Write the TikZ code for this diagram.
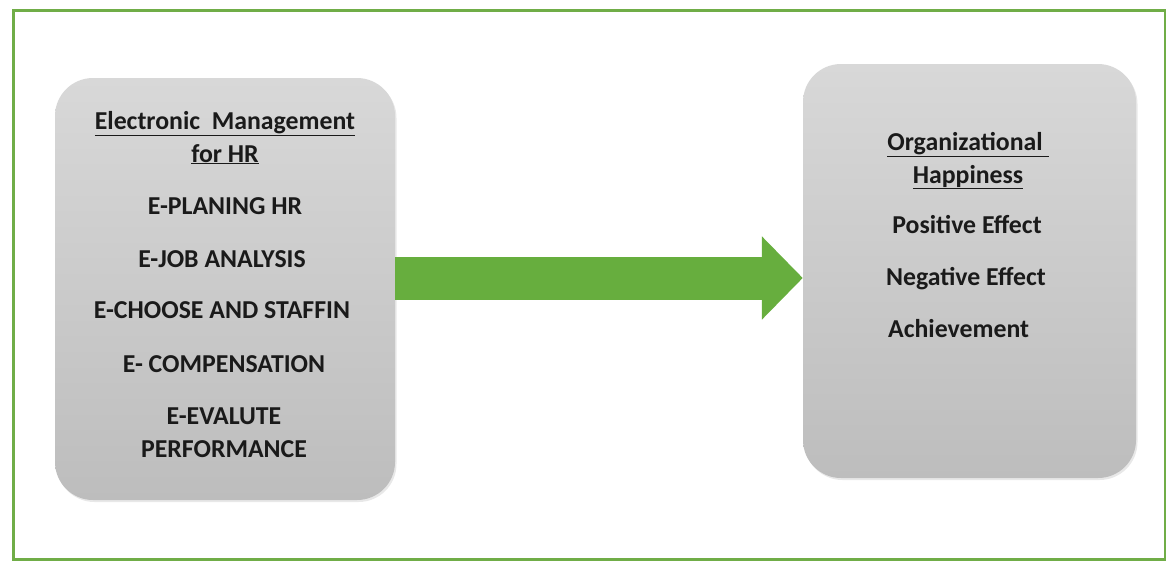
\documentclass[tikz,border=0pt]{standalone}
\usepackage{fontspec}
\setmainfont{Carlito}
\usetikzlibrary{arrows.meta,shadows}
\definecolor{framegreen}{HTML}{70AD47}
\definecolor{arrowgreen}{HTML}{67AE3E}
\definecolor{boxtop}{HTML}{D8D8D8}
\definecolor{boxbot}{HTML}{BDBDBD}
\definecolor{txt}{HTML}{1A1A1A}
\begin{document}
\begin{tikzpicture}[x=1pt, y=-1pt,
  box/.style={rounded corners=38pt, top color=boxtop, bottom color=boxbot, draw=none,
    drop shadow={opacity=0.18, shadow xshift=1.5pt, shadow yshift=-2pt}},
  item/.style={font=\fontsize{25.8}{33}\selectfont\bfseries, text=txt, align=center,
    inner sep=0pt, anchor=base}]
  \useasboundingbox (0,0) rectangle (1166,562);
  \draw[framegreen, line width=3pt] (13,10) rectangle (1165,559);
  \node[box, minimum width=340pt, minimum height=422pt] (lbox) at (225,289) {};
  \node[box, minimum width=333pt, minimum height=414pt] (rbox) at (969.5,271) {};
  \node[item] (ehr) at (225,162) {\underline{Electronic\ \ Management}\\\underline{for HR}};
  \node[item] (eplan) at (225,214) {E-PLANING HR};
  \node[item] (ejob) at (222,267) {E-JOB ANALYSIS};
  \node[item] (estaff) at (222,318) {E-CHOOSE AND STAFFIN};
  \node[item] (ecomp) at (224,372) {E- COMPENSATION};
  \node[item] (eeval) at (224,457) {E-EVALUTE\\PERFORMANCE};
  \node[item] (ohap) at (968,183) {\underline{Organizational\ }\\\underline{Happiness}};
  \node[item] (pos) at (967,233) {Positive Effect};
  \node[item] (neg) at (966,285) {Negative Effect};
  \node[item, anchor=base west] (ach) at (888,337) {Achievement};
  \coordinate (mid) at (600,278);
  \draw[arrowgreen, line width=43pt, -{Triangle[length=41pt,width=81pt]}]
    (lbox.east |- mid) -- (rbox.west |- mid);
\end{tikzpicture}
\end{document}
